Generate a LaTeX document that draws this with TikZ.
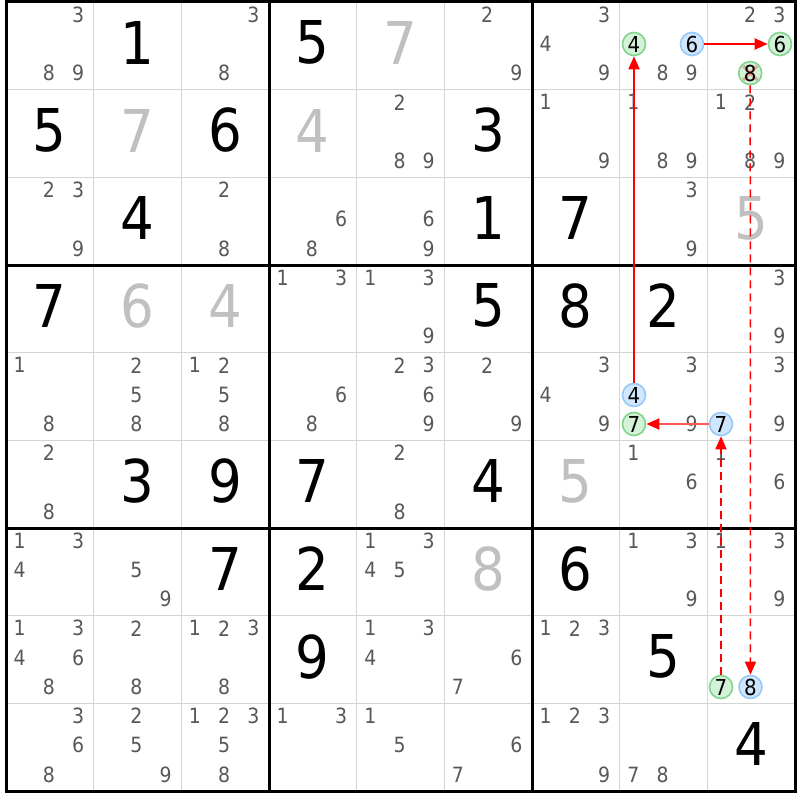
\documentclass[tikz,border=0pt]{standalone}
\usepackage{fontspec}
\setmainfont{DejaVu Sans Condensed}
\usetikzlibrary{arrows.meta}
\definecolor{candcol}{RGB}{88,88,88}
\definecolor{solvedcol}{RGB}{192,192,192}
\definecolor{thincol}{RGB}{212,212,212}
\definecolor{gfill}{RGB}{212,242,216}
\definecolor{gline}{RGB}{128,212,140}
\definecolor{bfill}{RGB}{208,230,255}
\definecolor{bline}{RGB}{150,200,250}
\definecolor{linkred}{RGB}{255,0,0}
\definecolor{lightred}{RGB}{255,90,90}
\tikzset{
  thingrid/.style={draw=thincol,line width=1.6pt},
  thickgrid/.style={draw=black,line width=3pt},
  given/.style={inner sep=0pt,font=\fontsize{59}{59}\selectfont,text=black},
  solved/.style={inner sep=0pt,font=\fontsize{59}{59}\selectfont,text=solvedcol},
  cand/.style={inner sep=0pt,font=\fontsize{21}{21}\selectfont,text=candcol},
  gcirc/.style={circle,draw=gline,fill=gfill,line width=1.6pt,minimum size=23pt,inner sep=0pt,font=\fontsize{22}{22}\selectfont,text=black},
  bcirc/.style={circle,draw=bline,fill=bfill,line width=1.6pt,minimum size=23pt,inner sep=0pt,font=\fontsize{22}{22}\selectfont,text=black},
  linkarrow/.style={draw=linkred,line width=1.8pt,-{Triangle[length=13pt,width=11pt,fill=linkred]}},
  softlink/.style={draw=lightred,line width=1.8pt,-{Triangle[length=13pt,width=11pt,fill=linkred,color=linkred]}},
  weaklink/.style={draw=linkred,line width=1.5pt,dash pattern=on 8pt off 5pt,-{Triangle[length=13pt,width=11pt,fill=linkred]}},
}
\begin{document}
\begin{tikzpicture}[x=1pt,y=-1pt]
\useasboundingbox (0,0) rectangle (800,800);
\fill[white] (0,0) rectangle (800,800);
% thin grid lines
\foreach \i in {1,2,4,5,7,8} {
  \draw[thingrid] ({6+\i*87.67},2) -- ({6+\i*87.67},791);
  \draw[thingrid] (6,{2+\i*87.67}) -- (795,{2+\i*87.67});
}
% thick grid lines
\foreach \i in {0,3,6,9} {
  \draw[thickgrid] ({6+\i*87.67},0.5) -- ({6+\i*87.67},792.5);
  \draw[thickgrid] (4.5,{2+\i*87.67}) -- (796.5,{2+\i*87.67});
}
% givens
\foreach \r/\c/\d in {0/1/1,0/3/5,1/0/5,1/2/6,1/5/3,2/1/4,2/5/1,2/6/7,3/0/7,3/5/5,3/6/8,3/7/2,5/1/3,5/2/9,5/3/7,5/5/4,6/2/7,6/3/2,6/6/6,7/3/9,7/7/5,8/8/4}
  \node[given] (giv\r\c) at ({6+(\c+0.5)*87.67},{2+(\r+0.5)*87.67-3}) {\d};
% solved (grey)
\foreach \r/\c/\d in {0/4/7,1/1/7,1/3/4,2/8/5,3/1/6,3/2/4,5/6/5,6/5/8}
  \node[solved] (sol\r\c) at ({6+(\c+0.5)*87.67},{2+(\r+0.5)*87.67-3}) {\d};
% candidates
\foreach \r/\c/\ds in {0/0/{3,8,9},0/2/{3,8},0/5/{2,9},0/6/{3,4,9},0/7/{8,9},0/8/{2,3},
  1/4/{2,8,9},1/6/{1,9},1/7/{1,8,9},1/8/{1,2,8,9},
  2/0/{2,3,9},2/2/{2,8},2/3/{6,8},2/4/{6,9},2/7/{3,9},
  3/3/{1,3},3/4/{1,3,9},3/8/{3,9},
  4/0/{1,8},4/1/{2,5,8},4/2/{1,2,5,8},4/3/{6,8},4/4/{2,3,6,9},4/5/{2,9},4/6/{3,4,9},4/7/{3,9},4/8/{3,9},
  5/0/{2,8},5/4/{2,8},5/7/{1,6},5/8/{1,6},
  6/0/{1,3,4},6/1/{5,9},6/4/{1,3,4,5},6/7/{1,3,9},6/8/{1,3,9},
  7/0/{1,3,4,6,8},7/1/{2,8},7/2/{1,2,3,8},7/4/{1,3,4},7/5/{6,7},7/6/{1,2,3},
  8/0/{3,6,8},8/1/{2,5,9},8/2/{1,2,3,5,8},8/3/{1,3},8/4/{1,5},8/5/{6,7},8/6/{1,2,3,9},8/7/{7,8}} {
  \foreach \d in \ds {
    \pgfmathtruncatemacro\cc{mod(\d-1,3)}
    \pgfmathtruncatemacro\rr{div(\d-1,3)}
    \node[cand] (k\r\c\d) at ({6+\c*87.67+(2*\cc+1)*14.61-1},{2+\r*87.67+(2*\rr+1)*14.61-2}) {\d};
  }
}
% eliminated 8 with pink cross
\coordinate (xc) at ({6+8*87.67+3*14.61-1},{2+0*87.67+5*14.61-2});
\node[gcirc] (gD) at (xc) {};
\draw[red,opacity=0.3,line width=3pt] ([shift={(-7,-7)}]xc) -- ([shift={(7,7)}]xc);
\draw[red,opacity=0.3,line width=3pt] ([shift={(-7,7)}]xc) -- ([shift={(7,-7)}]xc);
\node[inner sep=0pt,font=\fontsize{22}{22}\selectfont,text=black] (gDt) at (xc) {8};
% circled candidates
\node[gcirc] (gA) at (634,44) {4};
\node[bcirc] (bB) at (692,44) {6};
\node[gcirc] (gC) at (780,44) {6};
\node[bcirc] (bE) at (634,395) {4};
\node[gcirc] (gF) at (634,424) {7};
\node[bcirc] (bG) at (721,424) {7};
\node[gcirc] (gH) at (721,687) {7};
\node[bcirc] (bI) at (750.5,687) {8};
% links
\draw[linkarrow] (bE) -- (gA);
\draw[linkarrow] (bB) -- (gC);
\draw[softlink] (bG) -- (gF);
\draw[weaklink] (gH) -- (bG);
\draw[weaklink] (gD) -- (bI);
\end{tikzpicture}
\end{document}
